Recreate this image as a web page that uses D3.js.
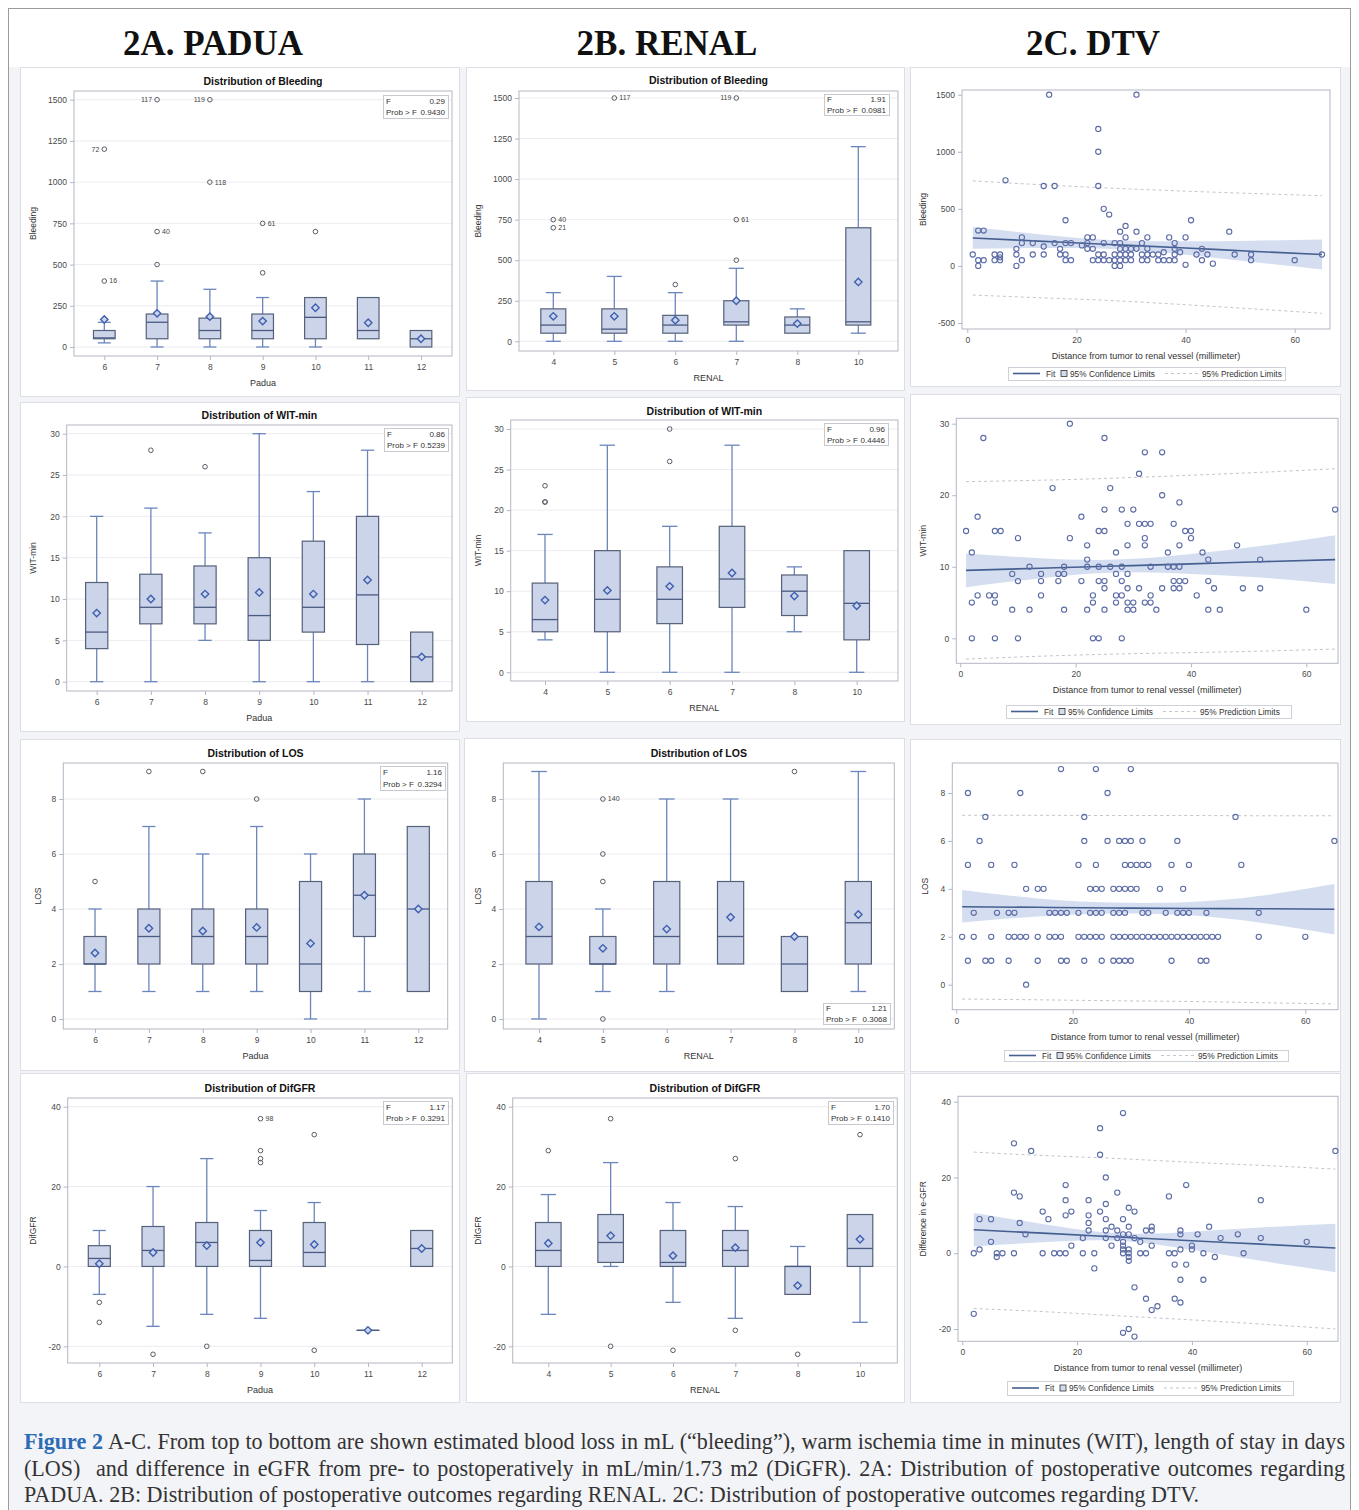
<!DOCTYPE html>
<html>
<head>
<meta charset="utf-8">
<script src="https://cdn.jsdelivr.net/npm/d3@7"></script>
<style>
  body { margin: 0; background: #ffffff; }
  #fig { position: relative; width: 1359px; height: 1510px; overflow: hidden; }
  #chart { position: absolute; left: 0; top: 0; }
  #caption {
    position: absolute; left: 24px; top: 1429px; width: 1321px;
    font-family: "Liberation Serif", "Times New Roman", serif;
    font-size: 22.1px; line-height: 26.5px; color: #333;
  }
  #caption div { white-space: nowrap; }
  #caption b { color: #2b6cb5; }
</style>
</head>
<body>
<div id="fig">
  <svg id="chart" width="1359" height="1510"></svg>
  <div id="caption">
    <div class="jl"><span class="inner"><b>Figure 2</b> A-C. From top to bottom are shown estimated blood loss in mL (“bleeding”), warm ischemia time in minutes (WIT), length of stay in days</span></div>
    <div class="jl"><span class="inner">(LOS)&nbsp; and difference in eGFR from pre- to postoperatively in mL/min/1.73 m2 (DiGFR). 2A: Distribution of postoperative outcomes regarding</span></div>
    <div><span>PADUA. 2B: Distribution of postoperative outcomes regarding RENAL. 2C: Distribution of postoperative outcomes regarding DTV.</span></div>
  </div>
</div>
<script>
// ---------------- data ----------------
const paduaCats = ["6", "7", "8", "9", "10", "11", "12"];
const renalCats = ["4", "5", "6", "7", "8", "10"];

const bleedingTicks = [0, 250, 500, 750, 1000, 1250, 1500];
const witTicks = [0, 5, 10, 15, 20, 25, 30];
const losTicks = [0, 2, 4, 6, 8];
const gfrTicks = [-20, 0, 20, 40];
const dtvBleedingTicks = [-500, 0, 500, 1000, 1500];
const dtvWitTicks = [0, 10, 20, 30];
const dtvTicksX = [0, 20, 40, 60];

// box rows: [lower whisker, Q1, median, Q3, upper whisker, mean]
const bleedingPadua = [
  [25, 50, 55, 100, 150, 167], [0, 50, 150, 200, 400, 204], [0, 50, 100, 175, 350, 184],
  [0, 50, 100, 200, 300, 157], [0, 50, 180, 300, 300, 238], [50, 50, 100, 300, 300, 147],
  [0, 0, 50, 100, 100, 50]
];
// outliers: [category, value, id label]
const bleedingPaduaOut = [
  ["6", 400, "16"], ["6", 1200, "72"], ["7", 500], ["7", 700, "40"], ["7", 1500, "117"],
  ["8", 1000, "118"], ["8", 1500, "119"], ["9", 450], ["9", 750, "61"], ["10", 700]
];
const bleedingRenal = [
  [0, 50, 100, 200, 300, 154], [0, 50, 75, 200, 400, 154], [0, 50, 100, 160, 300, 130],
  [0, 100, 120, 250, 450, 250], [50, 50, 100, 150, 200, 109], [50, 100, 120, 700, 1200, 366]
];
const bleedingRenalOut = [
  ["4", 700, "21"], ["4", 750, "40"], ["5", 1500, "117"], ["6", 350],
  ["7", 500], ["7", 750, "61"], ["7", 1500, "119"]
];

const witPadua = [
  [0, 4, 6, 12, 20, 8.3], [0, 7, 9, 13, 21, 10.0], [5, 7, 9, 14, 18, 10.6],
  [0, 5, 8, 15, 30, 10.8], [0, 6, 9, 17, 23, 10.6], [0, 4.5, 10.5, 20, 28, 12.3],
  [0, 0, 3, 6, 6, 3.0]
];
const witPaduaOut = [["7", 28], ["8", 26]];
const witRenal = [
  [4, 5, 6.5, 11, 17, 8.9], [0, 5, 9, 15, 28, 10.1], [0, 6, 9, 13, 18, 10.6],
  [0, 8, 11.5, 18, 28, 12.25], [5, 7, 10, 12, 13, 9.4], [0, 4, 8.5, 15, 15, 8.2]
];
const witRenalOut = [["4", 21], ["4", 21], ["4", 23], ["6", 26], ["6", 30]];

const losPadua = [
  [1, 2, 2, 3, 4, 2.4], [1, 2, 3, 4, 7, 3.3], [1, 2, 3, 4, 6, 3.2],
  [1, 2, 3, 4, 7, 3.33], [0, 1, 2, 5, 6, 2.75], [1, 3, 4.5, 6, 8, 4.5],
  [1, 1, 4, 7, 7, 4.0]
];
const losPaduaOut = [["6", 5], ["7", 9], ["8", 9], ["9", 8]];
const losRenal = [
  [0, 2, 3, 5, 9, 3.35], [1, 2, 2, 3, 4, 2.57], [1, 2, 3, 5, 8, 3.27],
  [2, 2, 3, 5, 8, 3.7], [1, 1, 2, 3, 3, 3.0], [1, 2, 3.5, 5, 9, 3.8]
];
const losRenalOut = [["5", 0], ["5", 5], ["5", 6], ["5", 8, "140"], ["8", 9]];

const gfrPadua = [
  [-7, 0, 2, 5.2, 9, 0.67], [-15, 0, 4, 10, 20, 3.5], [-12, 0, 6, 11, 27, 5.25],
  [-13, 0, 1.5, 9, 14, 6.0], [0, 0, 3.5, 11, 16, 5.5], [-16, -16, -16, -16, -16, -16],
  [0, 0, 4.5, 9, 9, 4.5]
];
const gfrPaduaOut = [
  ["6", -9], ["6", -14], ["7", -22], ["8", -20], ["9", 26], ["9", 27], ["9", 29],
  ["9", 37, "98"], ["10", 33], ["10", -21]
];
const gfrRenal = [
  [-12, 0, 4, 11, 18, 5.8], [0, 1, 6, 13, 26, 7.7], [-9, 0, 1, 9, 16, 2.7],
  [-13, 0, 4, 9, 15, 4.7], [-7, -7, 0, 0, 5, -4.8], [-14, 0, 4.5, 13, 13, 6.8]
];
const gfrRenalOut = [
  ["4", 29], ["5", 37], ["5", -20], ["6", -21], ["7", 27], ["7", -16], ["8", -22], ["10", 33]
];

// F test results: [F, Prob > F]
const fBleedingPadua = ["0.29", "0.9430"];
const fBleedingRenal = ["1.91", "0.0981"];
const fWitPadua = ["0.86", "0.5239"];
const fWitRenal = ["0.96", "0.4446"];
const fLosPadua = ["1.16", "0.3294"];
const fLosRenal = ["1.21", "0.3068"];
const fGfrPadua = ["1.17", "0.3291"];
const fGfrRenal = ["1.70", "0.1410"];

// DTV scatter: [distance mm, outcome]
const dtvBleeding = [
  [1,100],[2,310],[3,310],[2,50],[2,0],[3,50],[5,100],[6,100],[5,50],[6,50],[6,75],[7,750],
  [9,100],[9,0],[9,150],[10,250],[10,200],[10,50],[12,100],[12,200],[14,700],[14,170],[14,100],
  [15,1500],[16,700],[16,200],[17,150],[17,100],[18,400],[18,200],[18,100],[18,50],[19,200],[19,50],
  [21,180],[22,250],[22,200],[22,150],[23,250],[23,150],[23,50],[24,1200],[24,1000],[24,700],
  [24,100],[24,50],[25,500],[25,200],[25,100],[25,50],[26,450],[26,50],[27,200],[27,100],[27,50],
  [27,0],[28,300],[28,200],[28,150],[28,100],[28,50],[28,0],[29,350],[29,250],[29,150],[29,100],
  [29,50],[30,150],[30,100],[30,50],[31,1500],[31,300],[31,150],[32,200],[32,100],[32,50],[33,250],
  [33,150],[33,100],[33,50],[34,100],[35,100],[35,50],[36,120],[36,50],[37,250],[37,50],[38,200],
  [38,150],[38,100],[38,50],[39,120],[40,250],[40,10],[41,400],[42,100],[43,150],[43,50],[44,100],
  [45,20],[48,300],[49,100],[52,100],[52,50],[60,50],[65,100]
];
const dtvWit = [
  [1,15],[2,12],[2,5],[2,0],[3,17],[3,6],[4,28],[5,6],[6,15],[6,6],[6,5],[6,0],[7,15],[9,9],[9,4],
  [10,14],[10,8],[10,0],[12,10],[12,4],[14,9],[14,8],[14,6],[16,21],[17,9],[17,8],[18,9],[18,10],
  [18,4],[19,30],[19,14],[21,17],[21,8],[22,13],[22,11],[22,10],[22,4],[23,6],[23,5],[23,0],[24,15],
  [24,10],[24,8],[24,0],[25,28],[25,18],[25,15],[25,8],[25,7],[25,4],[26,21],[26,10],[27,12],[27,9],
  [27,6],[27,5],[28,18],[28,10],[28,8],[28,6],[28,0],[29,16],[29,13],[29,9],[29,7],[29,5],[29,4],
  [30,18],[30,5],[30,4],[31,23],[31,16],[31,7],[32,26],[32,16],[32,14],[32,13],[32,5],[33,16],
  [33,10],[33,6],[33,5],[34,4],[35,26],[35,20],[35,7],[36,12],[36,10],[37,16],[37,10],[37,8],[37,7],
  [38,19],[38,13],[38,10],[38,8],[38,7],[39,8],[39,15],[40,15],[40,14],[41,6],[42,12],[43,11],[43,8],
  [43,4],[44,7],[45,4],[48,13],[49,7],[52,11],[52,7],[60,4],[65,18]
];
const dtvLos = [
  [18,9],[24,9],[30,9],[2,8],[11,8],[26,8],[5,7],[22,7],[48,7],
  [4,6],[22,6],[26,6],[28,6],[29,6],[30,6],[32,6],[38,6],[65,6],
  [2,5],[6,5],[10,5],[21,5],[24,5],[29,5],[30,5],[31,5],[32,5],[33,5],[37,5],[40,5],[49,5],
  [12,4],[14,4],[15,4],[23,4],[24,4],[25,4],[27,4],[28,4],[29,4],[30,4],[31,4],[35,4],[39,4],
  [3,3],[7,3],[9,3],[10,3],[16,3],[17,3],[18,3],[19,3],[21,3],[23,3],[24,3],[25,3],[27,3],[28,3],
  [29,3],[32,3],[33,3],[36,3],[38,3],[39,3],[40,3],[43,3],[52,3],
  [1,2],[3,2],[6,2],[9,2],[10,2],[11,2],[12,2],[14,2],[16,2],[17,2],[18,2],[21,2],[22,2],[23,2],
  [24,2],[25,2],[27,2],[28,2],[29,2],[30,2],[31,2],[32,2],[33,2],[34,2],[35,2],[36,2],[37,2],[38,2],
  [39,2],[40,2],[41,2],[42,2],[43,2],[44,2],[45,2],[52,2],[60,2],
  [2,1],[5,1],[6,1],[9,1],[14,1],[18,1],[19,1],[22,1],[25,1],[27,1],[28,1],[29,1],[30,1],[37,1],
  [42,1],[43,1],[12,0]
];
const dtvGfr = [
  [2,0],[2,-16],[3,9],[3,1],[5,9],[5,3],[6,0],[6,-1],[7,0],[9,29],[9,16],[9,0],[10,15],[10,8],[11,5],
  [12,27],[14,11],[14,0],[15,9],[16,0],[17,0],[18,0],[18,18],[18,14],[18,10],[19,11],[19,2],[21,4],
  [21,0],[22,14],[22,10],[22,8],[22,6],[23,0],[23,-4],[24,33],[24,26],[24,11],[25,20],[25,13],[25,9],
  [25,6],[25,4],[26,7],[26,2],[27,16],[27,6],[27,4],[28,37],[28,9],[28,5],[28,3],[28,2],[28,1],[28,0],
  [28,-21],[29,12],[29,7],[29,5],[29,1],[29,0],[29,-1],[29,-2],[29,-20],[30,11],[30,4],[30,-9],
  [30,-22],[31,3],[31,0],[32,6],[32,0],[32,-12],[33,7],[33,6],[33,2],[33,-15],[34,-14],[36,15],[36,0],
  [37,0],[37,-3],[37,-12],[38,6],[38,5],[38,1],[38,-7],[38,-13],[39,18],[39,-3],[40,2],[40,1],[41,5],
  [42,0],[42,-7],[43,7],[44,-1],[45,4],[48,5],[49,0],[52,14],[52,4],[60,3],[65,27]
];

// regression fit with limits: [x, fit, CI low, CI high, PI low, PI high]
const dtvBleedingFit = [
  [1,245,150,340,-255,745],[14,215,156,274,-280,710],[27,186,146,226,-305,680],
  [40,157,98,216,-340,655],[52,129,37,221,-375,635],[65,100,-32,232,-415,615]
];
const dtvWitFit = [
  [1,9.5,7.15,11.85,-2.9,21.9],[14,9.8,8.4,11.2,-2.5,22.1],[27,10.1,9.2,11.0,-2.2,22.4],
  [40,10.4,9.0,11.8,-2.0,22.8],[52,10.7,8.5,12.9,-1.8,23.2],[65,11.0,7.6,14.4,-1.5,23.7]
];
const dtvLosFit = [
  [1,3.25,2.6,3.95,-0.6,7.07],[14,3.23,2.85,3.6,-0.63,7.07],[27,3.2,2.97,3.43,-0.67,7.06],
  [40,3.18,2.9,3.45,-0.7,7.06],[52,3.17,2.6,3.7,-0.75,7.05],[65,3.15,2.1,4.2,-0.8,7.05]
];
const dtvGfrFit = [
  [2,6.2,1.8,10.6,-14.6,26.7],[14,5.3,2.9,7.7,-15.4,25.8],[27,4.3,3.3,5.3,-16.5,25.0],
  [40,3.3,0.9,5.7,-17.6,24.0],[52,2.4,-2.0,6.8,-18.7,23.2],[65,1.4,-5.0,7.8,-20.0,22.2]
];

// ---------------- layout & drawing ----------------
const SANS = "'Liberation Sans', Arial, Helvetica, sans-serif";
const C = {
  boxFill: "#cbd4e8", boxStroke: "#55607a", median: "#4a5a82", whisker: "#6b85bd",
  mean: "#3f5fb0", outlier: "#5a5a66", grid: "#ececf1", frame: "#b3b7c3",
  tick: "#4a4a4a", point: "#5b6ba6", band: "#d2dcef", fit: "#445f90", pi: "#c4c5cd"
};

const svg = d3.select("#chart");

// page frame
svg.append("rect").attr("x", 8.5).attr("y", 8.5).attr("width", 1342).attr("height", 1510)
  .attr("fill", "#f3f4f8").attr("stroke", "#9b9b9b");
svg.append("rect").attr("x", 9).attr("y", 9).attr("width", 1341).attr("height", 58).attr("fill", "#ffffff");

// column headings
const heads = [["2A. PADUA", 213], ["2B. RENAL", 667], ["2C. DTV", 1093]];
svg.selectAll("text.head").data(heads).join("text")
  .attr("class", "head").attr("x", d => d[1]).attr("y", 55).attr("text-anchor", "middle")
  .attr("font-family", "'Liberation Serif', 'Times New Roman', serif").attr("font-weight", "bold")
  .attr("font-size", 35).attr("fill", "#111").text(d => d[0]);

const layout = {
  A1: { card: [20, 67, 459, 396], frame: [74, 91, 452, 356], yr: [347, 99.7], xr: [104.3, 421], titleY: 81, ylx: 33, inset: [383, 95, 448, 118] },
  B1: { card: [466, 67, 904, 390], frame: [519, 91, 898, 351], yr: [341.3, 98], xr: [553.3, 858.3], titleY: 80, ylx: 478, inset: [824, 94, 889, 115] },
  C1: { card: [910, 67, 1340, 386], frame: [962, 90, 1330, 329], yr: [323, 94.7], xr: [967.3, 1294.7], ylx: 923, legend: [1008, 367, 1285, 380] },
  A2: { card: [20, 402, 459, 731], frame: [66.7, 425, 452, 691], yr: [681.7, 433.7], xr: [96.7, 421.7], titleY: 415, ylx: 33, inset: [384, 428, 448, 451] },
  B2: { card: [466, 397, 904, 721], frame: [510.7, 420, 898, 681], yr: [672.3, 429], xr: [545, 856.7], titleY: 411, ylx: 478, inset: [824, 423, 888, 445] },
  C2: { card: [910, 394, 1340, 724], frame: [956.3, 418.3, 1338, 663.3], yr: [638.3, 423.7], xr: [960.3, 1306.3], ylx: 923, legend: [1006, 705, 1291, 718] },
  A3: { card: [20, 739, 459, 1070], frame: [63.3, 763, 447.7, 1029], yr: [1019, 799], xr: [95, 418.3], titleY: 753, ylx: 38, inset: [380, 766, 445, 790] },
  B3: { card: [464, 738, 904, 1071], frame: [503.3, 763, 894.3, 1029], yr: [1019, 799], xr: [539, 858.3], titleY: 753, ylx: 478, inset: [823, 1003, 890, 1024] },
  C3: { card: [910, 739, 1340, 1071], frame: [952.3, 763, 1338, 1009.7], yr: [984.7, 793], xr: [956.3, 1305.3], ylx: 925, legend: [1004, 1050, 1288, 1061] },
  A4: { card: [20, 1073, 459, 1402], frame: [67.7, 1098, 452.3, 1363], yr: [1346.3, 1106.7], xr: [99.3, 421.7], titleY: 1088, ylx: 33, inset: [383, 1101, 448, 1124] },
  B4: { card: [466, 1073, 904, 1402], frame: [512.7, 1098, 897.3, 1363], yr: [1346.3, 1106.7], xr: [548.3, 860], titleY: 1088, ylx: 478, inset: [828, 1101, 893, 1124] },
  C4: { card: [910, 1073, 1340, 1402], frame: [958, 1096.3, 1338, 1341.3], yr: [1329, 1101.7], xr: [962.3, 1306.7], ylx: 923, legend: [1007, 1381, 1293, 1395] }
};

function card(g, L) {
  const [x0, y0, x1, y1] = L.card;
  g.append("rect").attr("x", x0 + 0.5).attr("y", y0 + 0.5).attr("width", x1 - x0).attr("height", y1 - y0)
    .attr("fill", "#ffffff").attr("stroke", "#dcdde5");
}

function axesFrame(g, L, y, yTicks, xScale, xTicks, xLabel, yLabel, grid) {
  const [l, t, r, b] = L.frame;
  if (grid) {
    g.append("g").selectAll("line").data(yTicks).join("line")
      .attr("x1", l).attr("x2", r).attr("y1", d => y(d)).attr("y2", d => y(d))
      .attr("stroke", C.grid).attr("stroke-width", 1);
  }
  g.append("rect").attr("x", l).attr("y", t).attr("width", r - l).attr("height", b - t)
    .attr("fill", "none").attr("stroke", C.frame).attr("stroke-width", 1);

  // y axis (ticks outside frame)
  const ya = g.append("g").attr("transform", `translate(${l},0)`)
    .call(d3.axisLeft(y).tickValues(yTicks).tickSize(4).tickPadding(3).tickFormat(d => String(d)));
  ya.select(".domain").remove();
  ya.selectAll("line").attr("stroke", C.frame);
  ya.selectAll("text").attr("font-family", SANS).attr("font-size", 8.5).attr("fill", C.tick);

  // x axis
  const xa = g.append("g").attr("transform", `translate(0,${b})`)
    .call(d3.axisBottom(xScale).tickValues(xTicks).tickSize(4).tickPadding(4).tickFormat(d => String(d)));
  xa.select(".domain").remove();
  xa.selectAll("line").attr("stroke", C.frame);
  xa.selectAll("text").attr("font-family", SANS).attr("font-size", 8.5).attr("fill", C.tick);

  g.append("text").attr("x", (l + r) / 2).attr("y", b + 30).attr("text-anchor", "middle")
    .attr("font-family", SANS).attr("font-size", 9).attr("fill", "#333").text(xLabel);
  const my = (t + b) / 2;
  g.append("text").attr("transform", `translate(${L.ylx + 3},${my}) rotate(-90)`).attr("text-anchor", "middle")
    .attr("font-family", SANS).attr("font-size", 8.5).attr("fill", "#333").text(yLabel);
}

function boxPanel(L, title, cats, stats, outliers, domain, yTicks, xLabel, yLabel, fRes) {
  const g = svg.append("g");
  card(g, L);
  const [l, t, r, b] = L.frame;
  const y = d3.scaleLinear().domain(domain).range(L.yr);
  const x = d3.scalePoint().domain(cats).range(L.xr);
  const step = x.step();
  const bw = step * 0.41, cw = bw * 0.6;

  g.append("text").attr("x", (l + r) / 2).attr("y", L.titleY + 4).attr("text-anchor", "middle")
    .attr("font-family", SANS).attr("font-weight", "bold").attr("font-size", 10.5).attr("fill", "#111")
    .text(title);
  axesFrame(g, L, y, yTicks, x, cats, xLabel, yLabel, true);

  const rows = cats.map((c, i) => ({ c, s: stats[i] }));
  const bx = g.append("g").selectAll("g").data(rows).join("g")
    .attr("transform", d => `translate(${x(d.c)},0)`);

  // whiskers
  bx.each(function (d) {
    const [lo, q1, med, q3, hi] = d.s;
    const sel = d3.select(this);
    const wl = [];
    if (hi > q3) wl.push([q3, hi]);
    if (lo < q1) wl.push([q1, lo]);
    wl.forEach(([a, e]) => {
      sel.append("line").attr("x1", 0).attr("x2", 0).attr("y1", y(a)).attr("y2", y(e))
        .attr("stroke", C.whisker).attr("stroke-width", 1.3);
      sel.append("line").attr("x1", -cw / 2).attr("x2", cw / 2).attr("y1", y(e)).attr("y2", y(e))
        .attr("stroke", C.whisker).attr("stroke-width", 1.3);
    });
  });
  bx.append("rect")
    .attr("x", -bw / 2).attr("width", bw)
    .attr("y", d => y(d.s[3])).attr("height", d => Math.max(0.01, y(d.s[1]) - y(d.s[3])))
    .attr("fill", C.boxFill).attr("stroke", C.boxStroke).attr("stroke-width", 1.2);
  bx.append("line").attr("x1", -bw / 2).attr("x2", bw / 2)
    .attr("y1", d => y(d.s[2])).attr("y2", d => y(d.s[2]))
    .attr("stroke", C.median).attr("stroke-width", 1.3);
  bx.append("path")
    .attr("d", d => { const m = y(d.s[5]), s = 3.7; return `M0,${m - s}L${s},${m}L0,${m + s}L${-s},${m}Z`; })
    .attr("fill", C.boxFill).attr("stroke", C.mean).attr("stroke-width", 1.4);

  // outliers with optional ids
  const leftIds = new Set(["72", "117", "119"]);
  const og = g.append("g");
  outliers.forEach(o => {
    const cx = x(o[0]), cy = y(o[1]);
    og.append("circle").attr("cx", cx).attr("cy", cy).attr("r", 2.3)
      .attr("fill", "none").attr("stroke", C.outlier).attr("stroke-width", 1);
    if (o[2]) {
      const left = leftIds.has(o[2]) && !(o[0] === "5");
      og.append("text").attr("x", left ? cx - 5 : cx + 5).attr("y", cy + 2.4)
        .attr("text-anchor", left ? "end" : "start")
        .attr("font-family", SANS).attr("font-size", 7).attr("fill", "#444").text(o[2]);
    }
  });

  // F test inset
  const [ix0, iy0, ix1, iy1] = L.inset;
  const ig = g.append("g");
  ig.append("rect").attr("x", ix0 + 0.5).attr("y", iy0 + 0.5).attr("width", ix1 - ix0).attr("height", iy1 - iy0)
    .attr("fill", "#ffffff").attr("stroke", "#c7c8d0");
  const rowH = (iy1 - iy0) / 2;
  [["F", fRes[0]], ["Prob > F", fRes[1]]].forEach((rw, i) => {
    const by = iy0 + rowH * (i + 0.5) + 3;
    ig.append("text").attr("x", ix0 + 3).attr("y", by).attr("font-family", SANS).attr("font-size", 8)
      .attr("fill", "#333").text(rw[0]);
    ig.append("text").attr("x", ix1 - 3).attr("y", by).attr("text-anchor", "end").attr("font-family", SANS)
      .attr("font-size", 8).attr("fill", "#333").text(rw[1]);
  });
}

function scatterPanel(L, pts, fit, domain, yTicks, yLabel) {
  const g = svg.append("g");
  card(g, L);
  const y = d3.scaleLinear().domain(domain).range(L.yr);
  const x = d3.scaleLinear().domain([0, 60]).range(L.xr);

  const band = d3.area().x(d => x(d[0])).y0(d => y(d[2])).y1(d => y(d[3])).curve(d3.curveNatural);
  g.append("path").datum(fit).attr("d", band).attr("fill", C.band).attr("opacity", 0.95);
  const lineOf = k => d3.line().x(d => x(d[0])).y(d => y(d[k])).curve(d3.curveNatural);
  [4, 5].forEach(k => g.append("path").datum(fit).attr("d", lineOf(k)).attr("fill", "none")
    .attr("stroke", C.pi).attr("stroke-width", 1).attr("stroke-dasharray", "3,3"));
  g.append("path").datum(fit).attr("d", lineOf(1)).attr("fill", "none")
    .attr("stroke", C.fit).attr("stroke-width", 1.6);

  axesFrame(g, L, y, yTicks, x, dtvTicksX, "Distance from tumor to renal vessel (millimeter)", yLabel, false);

  g.append("g").selectAll("circle").data(pts).join("circle")
    .attr("cx", d => x(d[0])).attr("cy", d => y(d[1])).attr("r", 2.6)
    .attr("fill", "none").attr("stroke", C.point).attr("stroke-width", 1.1);

  // legend
  const [lx0, ly0, lx1, ly1] = L.legend;
  const lg = g.append("g");
  lg.append("rect").attr("x", lx0 + 0.5).attr("y", ly0 + 0.5).attr("width", lx1 - lx0).attr("height", ly1 - ly0)
    .attr("fill", "#ffffff").attr("stroke", "#cfd0d8");
  const my = (ly0 + ly1) / 2;
  lg.append("line").attr("x1", lx0 + 5).attr("x2", lx0 + 32).attr("y1", my).attr("y2", my)
    .attr("stroke", C.fit).attr("stroke-width", 1.6);
  lg.append("text").attr("x", lx0 + 38).attr("y", my + 3).attr("font-family", SANS).attr("font-size", 8.3)
    .attr("fill", "#333").text("Fit");
  lg.append("rect").attr("x", lx0 + 53).attr("y", my - 3).attr("width", 6).attr("height", 6)
    .attr("fill", C.band).attr("stroke", "#333").attr("stroke-width", 0.8);
  lg.append("text").attr("x", lx0 + 62).attr("y", my + 3).attr("font-family", SANS).attr("font-size", 8.3)
    .attr("fill", "#333").text("95% Confidence Limits");
  lg.append("line").attr("x1", lx0 + 157).attr("x2", lx0 + 190).attr("y1", my).attr("y2", my)
    .attr("stroke", C.pi).attr("stroke-width", 1).attr("stroke-dasharray", "3,3");
  lg.append("text").attr("x", lx0 + 194).attr("y", my + 3).attr("font-family", SANS).attr("font-size", 8.3)
    .attr("fill", "#333").text("95% Prediction Limits");
}

boxPanel(layout.A1, "Distribution of Bleeding", paduaCats, bleedingPadua, bleedingPaduaOut, [0, 1500], bleedingTicks, "Padua", "Bleeding", fBleedingPadua);
boxPanel(layout.B1, "Distribution of Bleeding", renalCats, bleedingRenal, bleedingRenalOut, [0, 1500], bleedingTicks, "RENAL", "Bleeding", fBleedingRenal);
scatterPanel(layout.C1, dtvBleeding, dtvBleedingFit, [-500, 1500], dtvBleedingTicks, "Bleeding");

boxPanel(layout.A2, "Distribution of WIT-min", paduaCats, witPadua, witPaduaOut, [0, 30], witTicks, "Padua", "WIT-min", fWitPadua);
boxPanel(layout.B2, "Distribution of WIT-min", renalCats, witRenal, witRenalOut, [0, 30], witTicks, "RENAL", "WIT-min", fWitRenal);
scatterPanel(layout.C2, dtvWit, dtvWitFit, [0, 30], dtvWitTicks, "WIT-min");

boxPanel(layout.A3, "Distribution of LOS", paduaCats, losPadua, losPaduaOut, [0, 8], losTicks, "Padua", "LOS", fLosPadua);
boxPanel(layout.B3, "Distribution of LOS", renalCats, losRenal, losRenalOut, [0, 8], losTicks, "RENAL", "LOS", fLosRenal);
scatterPanel(layout.C3, dtvLos, dtvLosFit, [0, 8], losTicks, "LOS");

boxPanel(layout.A4, "Distribution of DifGFR", paduaCats, gfrPadua, gfrPaduaOut, [-20, 40], gfrTicks, "Padua", "DifGFR", fGfrPadua);
boxPanel(layout.B4, "Distribution of DifGFR", renalCats, gfrRenal, gfrRenalOut, [-20, 40], gfrTicks, "RENAL", "DifGFR", fGfrRenal);
scatterPanel(layout.C4, dtvGfr, dtvGfrFit, [-20, 40], gfrTicks, "Difference in e-GFR");

// caption: stretch the word gaps of the first two lines to fill the column width
const captionWidth = 1321;
document.querySelectorAll("#caption .jl .inner").forEach(span => {
  const w = span.getBoundingClientRect().width;
  const gaps = (span.textContent.match(/[ \u00a0]/g) || []).length;
  if (gaps > 0) span.style.wordSpacing = ((captionWidth - w) / gaps) + "px";
});
</script>
</body>
</html>
